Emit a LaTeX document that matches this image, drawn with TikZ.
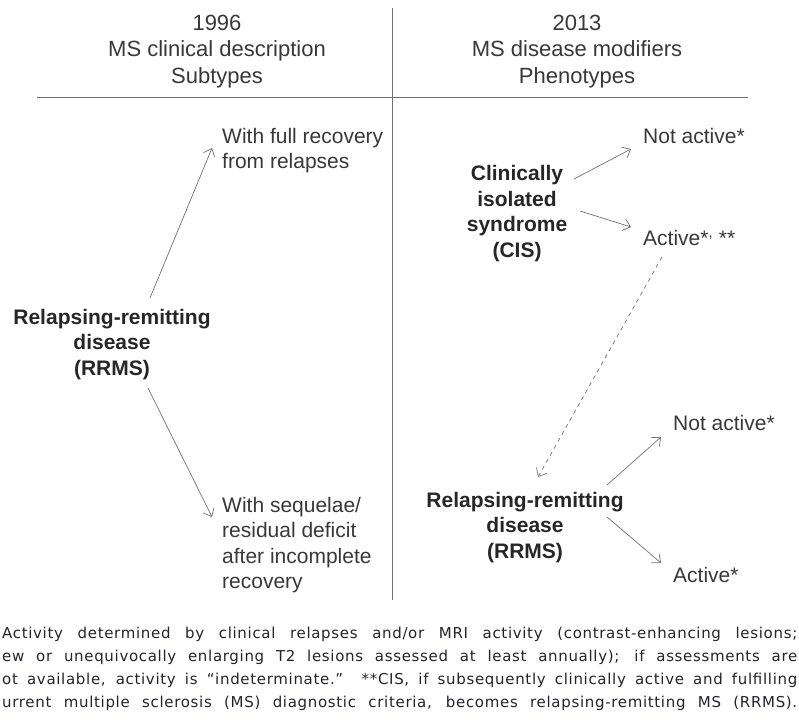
\documentclass[tikz,border=0pt]{standalone}
\usepackage{fontspec}
\setmainfont{Liberation Sans}
\newfontfamily\notefont[LetterSpace=4.5]{DejaVu Sans}
\usetikzlibrary{arrows.meta, positioning}
\definecolor{txtGray}{HTML}{383838}
\definecolor{lineGray}{HTML}{707070}
\definecolor{noteInk}{HTML}{23232C}

\begin{document}
\begin{tikzpicture}[x=1pt, y=-1pt,
    head/.style={align=center, anchor=base, inner sep=0, text=txtGray, font=\fontsize{22}{26.5}\selectfont},
    plain/.style={align=left, anchor=base west, inner sep=0, text=txtGray, font=\fontsize{21}{25.5}\selectfont},
    bold/.style={align=center, anchor=base, inner sep=0, text=black!85, font=\bfseries\fontsize{21}{25.5}\selectfont},
    arr/.style={draw=lineGray, line width=0.7pt, -{Straight Barb[length=7pt, width=12pt]}}]
    \useasboundingbox (0,0) rectangle (799,725);
    % column heads and rules (base = last line)
    \node[head] (year1) at (217,83) {1996\\MS clinical description\\Subtypes};
    \node[head] (year2) at (577,83) {2013\\MS disease modifiers\\Phenotypes};
    \draw[lineGray, line width=0.8pt] (37,97) -- (748,97);
    \draw[lineGray, line width=0.8pt] (392,8) -- (392,600);
    % 1996 side
    \node[bold] (rrL) at (112,375) {Relapsing-remitting\\disease\\(RRMS)};
    \node[plain] (full) at (222,168.5) {With full recovery\\from relapses};
    \node[plain] (seq) at (222,588.5) {With sequelae/\\residual deficit\\after incomplete\\recovery};
    \draw[arr] ([shift={(38,-77)}]rrL.base) -- ([shift={(-10,-20.5)}]full.base west);
    \draw[arr] ([shift={(36,13)}]rrL.base) -- ([shift={(-10,-71.5)}]seq.base west);
    % 2013 side
    \node[bold] (cis) at (517,257) {Clinically\\isolated\\syndrome\\(CIS)};
    \node[plain] (notU) at (643,143) {Not active*};
    \node[plain] (actU) at (643,245) {Active*\textsuperscript{,} **};
    \node[bold] (rrR) at (525,558) {Relapsing-remitting\\disease\\(RRMS)};
    \node[plain] (notL) at (673,430) {Not active*};
    \node[plain] (actL) at (673,582) {Active*};
    \draw[arr] ([shift={(57,-78)}]cis.base) -- ([shift={(-12,6)}]notU.base west);
    \draw[arr] ([shift={(63,-46)}]cis.base) -- ([shift={(-12,-18)}]actU.base west);
    \draw[arr, dash pattern=on 4pt off 4pt] ([shift={(19,12)}]actU.base west) -- ([shift={(13,-81)}]rrR.base);
    \draw[arr] ([shift={(82,-73)}]rrR.base) -- ([shift={(-12,7)}]notL.base west);
    \draw[arr] ([shift={(82,-41)}]rrR.base) -- ([shift={(-12,-19)}]actL.base west);
    % footnote
    \foreach \ln/\yb [count=\i] in
      {{Activity determined by clinical relapses and/or MRI activity (contrast-enhancing lesions;}/638,
       {ew or unequivocally enlarging T2 lesions assessed at least annually); if assessments are}/661,
       {ot available, activity is “indeterminate.” **CIS, if subsequently clinically active and fulfilling}/684,
       {urrent multiple sclerosis (MS) diagnostic criteria, becomes relapsing-remitting MS (RRMS).}/707} {
      \node[anchor=base west, inner sep=0, text=noteInk, font=\notefont\fontsize{15}{23}\selectfont]
        (note\i) at (2,\yb) {\makebox[795pt][s]{\ln}};
    }
\end{tikzpicture}
\end{document}
